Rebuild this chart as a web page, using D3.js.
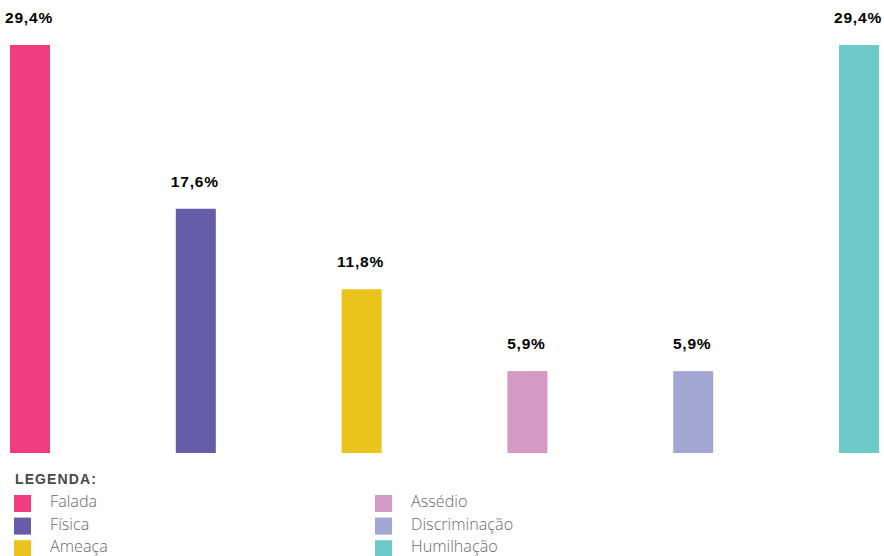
<!DOCTYPE html>
<html>
<head>
<meta charset="utf-8">
<script src="https://cdn.jsdelivr.net/npm/d3@7"></script>
<style>
  html, body { margin: 0; padding: 0; background: #fff; }
  svg { display: block; }
</style>
</head>
<body>
<svg id="chart" width="884" height="556"></svg>
<script>
// Tipos de violência e respectivos percentuais
const categories = ["Falada", "Física", "Ameaça", "Assédio", "Discriminação", "Humilhação"];
const values = [29.4, 17.6, 11.8, 5.9, 5.9, 29.4];
const colors = ["#EF3D7F", "#665CA8", "#EAC31C", "#D49AC5", "#A1A6D3", "#6CCAC9"];
const legendTitle = "LEGENDA:";

const svg = d3.select("#chart");

const left = 10, right = 879, barW = 40;
const stepPx = (right - left - barW) / (categories.length - 1);
const x = d3.scaleBand()
  .domain(categories)
  .range([left, right])
  .paddingInner(1 - barW / stepPx)
  .paddingOuter(0);

const baseY = 453, topY = 45;
const y = d3.scaleLinear()
  .domain([0, d3.max(values)])
  .range([baseY, topY]);

const fmt = v => d3.format(".1f")(v).replace(".", ",") + "%";

const data = categories.map((c, i) => ({ c, v: values[i], col: colors[i] }));

// barras
svg.append("g").selectAll("rect")
  .data(data)
  .join("rect")
  .attr("x", d => x(d.c))
  .attr("y", d => y(d.v))
  .attr("width", x.bandwidth())
  .attr("height", d => y(0) - y(d.v))
  .attr("fill", d => d.col);

// rótulos de valor
svg.append("g").selectAll("text")
  .data(data)
  .join("text")
  .attr("x", d => x(d.c) + x.bandwidth() / 2 - 1)
  .attr("y", d => y(d.v) - 22)
  .attr("text-anchor", "middle")
  .attr("font-family", "'Liberation Sans', Arial, sans-serif")
  .attr("font-weight", "bold")
  .attr("font-size", 15.5)
  .attr("letter-spacing", 0.8)
  .attr("fill", "#000")
  .text(d => fmt(d.v));

// legenda
const legend = svg.append("g");
legend.append("text")
  .attr("x", 15)
  .attr("y", 484)
  .attr("font-family", "'Liberation Sans', Arial, sans-serif")
  .attr("font-weight", "bold")
  .attr("font-size", 14)
  .attr("letter-spacing", 1.1)
  .attr("fill", "#484848")
  .text(legendTitle);

const colX = [14, 375];
const rowY0 = 495, rowStep = 22.6;
const items = legend.selectAll("g.item")
  .data(data)
  .join("g")
  .attr("class", "item")
  .attr("transform", (d, i) => `translate(${colX[Math.floor(i / 3)]},${rowY0 + (i % 3) * rowStep})`);

items.append("rect")
  .attr("width", 17)
  .attr("height", 17)
  .attr("fill", d => d.col);

items.append("text")
  .attr("x", 36)
  .attr("y", 12)
  .attr("font-family", "'Open Sans', 'Noto Sans', sans-serif")
  .attr("font-weight", 300)
  .attr("font-size", 16.2)
  .attr("fill", "#6a6a6a")
  .text(d => d.c);
</script>
</body>
</html>
